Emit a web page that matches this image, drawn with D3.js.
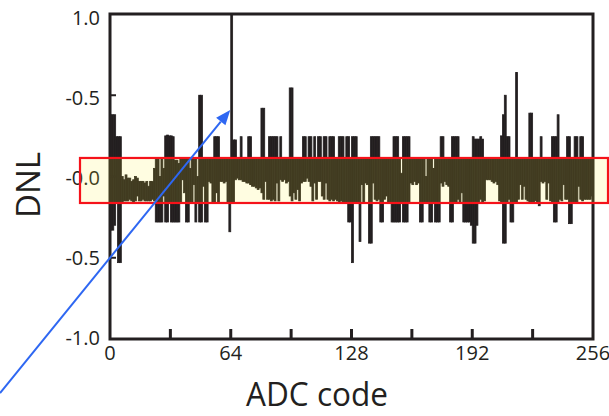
<!DOCTYPE html>
<html>
<head>
<meta charset="utf-8">
<script src="https://cdn.jsdelivr.net/npm/d3@7"></script>
<style>
  html, body { margin: 0; padding: 0; background: #fff; }
  svg { display: block; }
  text { font-family: "Open Sans", sans-serif; fill: #231f20; }
</style>
</head>
<body>
<svg id="chart" width="609" height="416"></svg>
<script>
// ADC output codes 0..255
const codes = d3.range(256);

// Upper and lower DNL envelope per code (LSB)
const dnlMax = [
  0.38,0.38,0.38,0.245,0.245,0.245,0.0,-0.02,0.01,-0.01,-0.01,-0.03,-0.02,0.0,-0.01,-0.03,
  -0.03,-0.03,-0.04,-0.03,-0.06,-0.03,-0.03,0.05,0.11,0.11,0.0,0.11,0.05,0.25,0.255,0.25,
  0.25,0.245,0.10,0.10,0.08,0.11,0.11,0.11,0.11,0.11,0.05,0.11,0.11,0.11,0.0,0.50,
  0.50,0.11,0.11,0.11,0.11,0.11,0.11,0.245,0.245,0.245,0.11,0.11,0.11,0.11,0.11,0.11,
  1.0,0.225,0.225,0.11,0.11,0.245,0.11,0.11,0.11,0.245,0.245,0.11,0.11,0.11,0.11,0.11,
  0.42,0.42,0.11,0.11,0.245,0.245,0.245,0.245,0.245,0.11,0.245,0.11,0.11,0.11,0.11,0.545,
  0.545,0.11,0.11,0.11,0.11,0.11,0.245,0.245,0.11,0.245,0.245,0.11,0.245,0.11,0.245,0.245,
  0.11,0.245,0.245,0.11,0.245,0.245,0.245,0.11,0.11,0.245,0.245,0.245,0.11,0.245,0.245,0.11,
  0.245,0.245,0.245,0.11,0.11,0.11,0.11,0.11,0.11,0.11,0.245,0.245,0.245,0.245,0.245,0.11,
  0.11,0.11,0.11,0.11,0.11,0.11,0.245,0.245,0.245,0.11,0.02,0.245,0.245,0.245,0.245,0.11,
  0.11,0.11,0.11,0.11,0.11,0.11,0.11,0.0,0.11,0.11,0.11,0.05,0.11,0.11,0.11,0.245,
  0.245,0.11,0.11,0.11,0.11,0.245,0.245,0.245,0.245,0.11,0.11,0.11,0.11,0.11,0.11,0.11,
  0.245,0.23,0.23,0.23,0.245,0.23,0.11,0.11,0.11,0.11,0.11,0.11,0.11,0.11,0.11,0.25,
  0.38,0.50,0.245,0.245,0.11,0.11,0.11,0.64,0.11,0.11,0.11,0.11,0.11,0.11,0.39,0.39,
  0.11,0.11,0.11,0.11,0.245,0.11,0.11,0.11,0.11,0.11,0.245,0.245,0.245,0.38,0.11,0.11,
  0.11,0.11,0.245,0.245,0.11,0.11,0.245,0.245,0.11,0.245,0.245,0.11,0.11,0.11,0.11,0.11
];
const dnlMin = [
  -0.33,-0.33,-0.30,-0.16,-0.53,-0.53,-0.16,-0.15,-0.15,-0.15,-0.14,-0.15,-0.16,-0.15,-0.12,-0.15,
  -0.15,-0.14,-0.15,-0.15,-0.15,-0.15,-0.14,-0.15,-0.28,-0.28,-0.28,-0.28,-0.12,-0.28,-0.28,-0.16,
  -0.28,-0.28,-0.28,-0.28,-0.28,-0.16,-0.02,-0.10,-0.28,-0.28,-0.16,-0.16,-0.05,-0.28,-0.16,-0.28,
  -0.28,-0.06,-0.28,-0.28,-0.03,-0.04,-0.16,-0.16,-0.10,-0.16,-0.03,-0.03,-0.04,-0.03,-0.16,-0.34,
  -0.16,-0.16,-0.02,-0.01,-0.02,-0.02,-0.03,-0.03,-0.04,-0.04,-0.05,-0.06,-0.06,-0.07,-0.08,-0.07,
  -0.10,-0.14,-0.03,-0.14,-0.14,-0.15,-0.14,-0.15,-0.04,-0.15,-0.02,-0.03,-0.02,-0.04,-0.03,-0.12,
  -0.15,-0.10,-0.14,-0.08,-0.15,-0.04,-0.03,-0.03,-0.01,-0.03,-0.06,-0.15,-0.04,-0.14,-0.03,-0.03,
  -0.12,-0.14,-0.04,-0.14,-0.15,-0.14,-0.15,-0.14,-0.15,-0.16,-0.15,-0.16,-0.16,-0.16,-0.28,-0.28,
  -0.53,-0.16,-0.16,-0.16,-0.40,-0.05,-0.16,-0.04,-0.05,-0.41,-0.41,-0.04,-0.14,-0.15,-0.14,-0.28,
  -0.28,-0.14,-0.12,-0.16,-0.16,-0.28,-0.28,-0.28,-0.28,-0.28,-0.16,-0.28,-0.28,-0.28,-0.16,-0.04,
  -0.05,-0.03,-0.05,-0.04,-0.28,-0.28,-0.16,-0.16,-0.16,-0.28,-0.28,-0.16,-0.28,-0.28,-0.28,-0.04,
  -0.06,-0.03,-0.05,-0.06,-0.28,-0.28,-0.16,-0.16,-0.14,-0.16,-0.10,-0.28,-0.28,-0.28,-0.28,-0.30,
  -0.41,-0.41,-0.30,-0.16,-0.14,-0.16,-0.15,-0.02,-0.02,-0.02,-0.03,-0.04,-0.03,-0.05,-0.15,-0.16,
  -0.41,-0.41,-0.16,-0.14,-0.28,-0.28,-0.16,-0.16,-0.14,-0.05,-0.14,-0.06,-0.14,-0.15,-0.16,-0.16,
  -0.16,-0.15,-0.16,-0.18,-0.03,-0.04,-0.03,-0.14,-0.04,-0.15,-0.16,-0.28,-0.28,-0.16,-0.14,-0.15,
  -0.05,-0.14,-0.14,-0.29,-0.29,-0.16,-0.16,-0.16,-0.06,-0.14,-0.15,-0.14,-0.14,-0.14,-0.14,-0.12
];

// Axis ticks and labels
const xTickMarks = [32, 64, 96, 128, 160, 192, 224];
const xTickLabels = [0, 64, 128, 192, 256];
const yTickValues = [1, 0.5, 0, -0.5, -1];
const yTickLabels = ["1.0", "-0.5", "-0.0", "-0.5", "-1.0"];
const yInnerTicks = [0.5, 0, -0.5];

// Highlighted DNL window and the annotated code
const bandRange = [-0.163, 0.114];
const markedCode = 64;
const markedLevel = 0.41;

const ink = "#231f20";
const svg = d3.select("#chart");

const plot = { left: 110, right: 593, top: 14, bottom: 339 };
const x = d3.scaleLinear().domain([0, 256]).range([plot.left, plot.right]);
const y = d3.scaleLinear().domain([-1, 1]).range([plot.bottom, plot.top]);
const yLabelPos = d3.scaleLinear().domain([-1, 1]).range([338, 18]);

// DNL bars
const bars = svg.append("g");
bars.selectAll("rect")
  .data(codes)
  .join("rect")
  .attr("x", c => x(c))
  .attr("width", c => x(c + 1) - x(c))
  .attr("y", c => y(dnlMax[c]))
  .attr("height", c => Math.max(0, y(dnlMin[c]) - y(dnlMax[c])))
  .attr("fill", ink)
  .attr("stroke", ink)
  .attr("stroke-width", 0.8);

// Frame
svg.append("rect")
  .attr("x", plot.left).attr("y", plot.top)
  .attr("width", plot.right - plot.left).attr("height", plot.bottom - plot.top)
  .attr("fill", "none").attr("stroke", ink).attr("stroke-width", 3);

// Inward ticks on the bottom axis
svg.append("g").selectAll("line")
  .data(xTickMarks)
  .join("line")
  .attr("x1", d => x(d)).attr("x2", d => x(d))
  .attr("y1", plot.bottom).attr("y2", plot.bottom - 10)
  .attr("stroke", ink).attr("stroke-width", 3);

// Inward ticks on the left axis
svg.append("g").selectAll("line")
  .data(yInnerTicks)
  .join("line")
  .attr("x1", plot.left).attr("x2", plot.left + 6)
  .attr("y1", d => y(d)).attr("y2", d => y(d))
  .attr("stroke", ink).attr("stroke-width", 2);

// X tick labels
svg.append("g").selectAll("text")
  .data(xTickLabels)
  .join("text")
  .attr("x", d => x(d))
  .attr("y", 359.5)
  .attr("text-anchor", "middle")
  .attr("font-size", 20)
  .text(d => d);

// Y tick labels
svg.append("g").selectAll("text")
  .data(yTickValues)
  .join("text")
  .attr("x", 100)
  .attr("y", d => yLabelPos(d))
  .attr("dy", "0.36em")
  .attr("text-anchor", "end")
  .attr("font-size", 20)
  .text((d, i) => yTickLabels[i]);

// Axis titles
svg.append("text")
  .attr("x", 317).attr("y", 406)
  .attr("text-anchor", "middle")
  .attr("font-size", 32)
  .attr("textLength", 142)
  .attr("lengthAdjust", "spacingAndGlyphs")
  .text("ADC code");

svg.append("text")
  .attr("transform", "translate(40,185) rotate(-90)")
  .attr("text-anchor", "middle")
  .attr("font-size", 33)
  .text("DNL");

// Highlight window across the plot
svg.append("rect")
  .attr("x", 80).attr("width", 528)
  .attr("y", y(bandRange[1]))
  .attr("height", y(bandRange[0]) - y(bandRange[1]))
  .attr("fill", "rgb(255,238,45)")
  .attr("fill-opacity", 0.14)
  .attr("stroke", "#f5121a")
  .attr("stroke-width", 2.2);

// Arrow pointing at the largest DNL code
const tip = [x(markedCode) - 0.5, y(markedLevel)];
const start = [0, 393];
const dx = tip[0] - start[0], dy = tip[1] - start[1];
const len = Math.hypot(dx, dy);
const ux = dx / len, uy = dy / len;
const headLen = 15, headHalf = 6;
const base = [tip[0] - ux * headLen, tip[1] - uy * headLen];
const arrowBlue = "#2e67f2";
svg.append("line")
  .attr("x1", start[0]).attr("y1", start[1])
  .attr("x2", base[0]).attr("y2", base[1])
  .attr("stroke", arrowBlue).attr("stroke-width", 2);
svg.append("path")
  .attr("d", d3.line()([
    tip,
    [base[0] - uy * headHalf, base[1] + ux * headHalf],
    [base[0] + uy * headHalf, base[1] - ux * headHalf]
  ]) + "Z")
  .attr("fill", arrowBlue);
</script>
</body>
</html>
